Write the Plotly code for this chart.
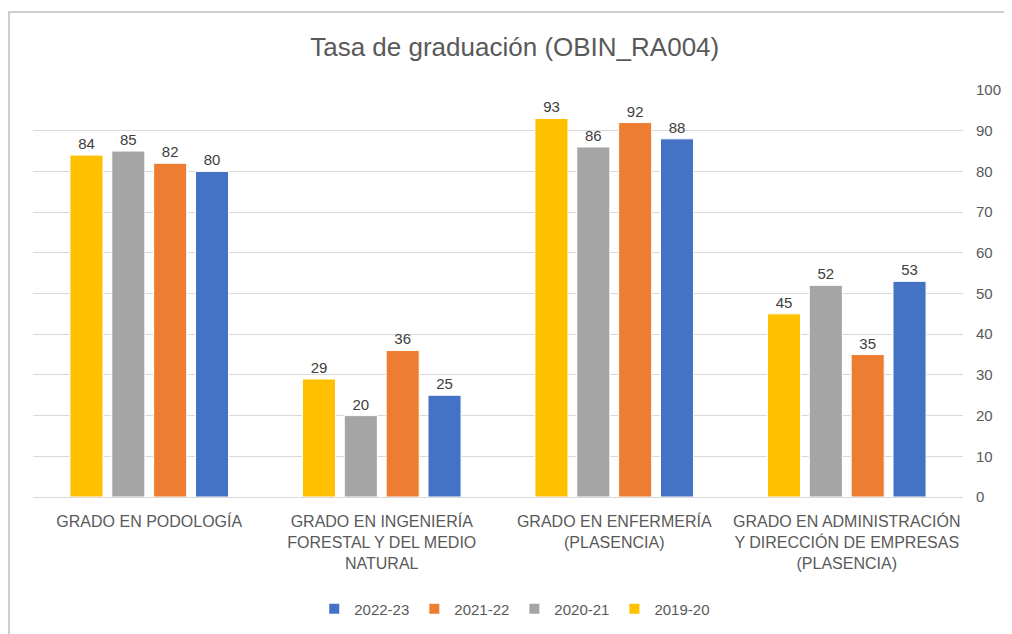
import plotly.graph_objects as go

# ------------------------------------------------------------
# Data
# ------------------------------------------------------------
grados = [
    "GRADO EN PODOLOGÍA",
    "GRADO EN INGENIERÍA<br>FORESTAL Y DEL MEDIO<br>NATURAL",
    "GRADO EN ENFERMERÍA<br>(PLASENCIA)",
    "GRADO EN ADMINISTRACIÓN<br>Y DIRECCIÓN DE EMPRESAS<br>(PLASENCIA)",
]

cursos = ["2019-20", "2020-21", "2021-22", "2022-23"]

tasa_2019_20 = [84, 29, 93, 45]
tasa_2020_21 = [85, 20, 86, 52]
tasa_2021_22 = [82, 36, 92, 35]
tasa_2022_23 = [80, 25, 88, 53]

colores = ["#FFC000", "#A5A5A5", "#ED7D31", "#4472C4"]

series = [tasa_2019_20, tasa_2020_21, tasa_2021_22, tasa_2022_23]

# ------------------------------------------------------------
# Chart
# ------------------------------------------------------------
font_family = "Liberation Sans, Arial"

fig = go.Figure()

for curso, valores, color in zip(cursos, series, colores):
    fig.add_trace(
        go.Bar(
            x=grados,
            y=valores,
            name=curso,
            marker=dict(color=color, line=dict(color="white", width=1)),
            text=valores,
            textposition="outside",
            textfont=dict(size=15, color="#404040", family=font_family),
            cliponaxis=False,
        )
    )

fig.update_layout(
    title=dict(
        text="Tasa de graduación (OBIN_RA004)",
        x=0.518,
        xref="paper",
        xanchor="center",
        y=0.9385,
        yanchor="middle",
        font=dict(size=26, color="#595959", family=font_family),
    ),
    barmode="group",
    bargap=0.28,
    bargroupgap=0.21,
    width=1012,
    height=634,
    margin=dict(l=25, r=57, t=82, b=145, autoexpand=False),
    plot_bgcolor="white",
    paper_bgcolor="white",
    font=dict(family=font_family, color="#595959"),
    legend=dict(
        orientation="h",
        traceorder="reversed",
        x=0.518,
        xanchor="center",
        y=-0.275,
        yanchor="middle",
        font=dict(size=15, color="#595959"),
        itemsizing="constant",
    ),
    showlegend=True,
)

fig.update_xaxes(
    automargin=False,
    showgrid=False,
    showline=True,
    linecolor="#D9D9D9",
    linewidth=1,
    tickfont=dict(size=16, color="#595959"),
    ticks="",
    tickangle=0,
    ticklabelstandoff=10,
)

fig.update_yaxes(
    automargin=False,
    side="right",
    range=[0, 100],
    dtick=10,
    showgrid=True,
    gridcolor="#D9D9D9",
    zeroline=False,
    showline=False,
    tickfont=dict(size=15, color="#595959"),
    ticks="",
    ticklabelstandoff=12,
)

# chart frame
fig.add_shape(
    type="rect",
    xref="paper",
    yref="paper",
    x0=(1 - 25) / 930,
    x1=(1030 - 25) / 930,
    y0=-(660 - 489) / 407,
    y1=1 + (82 - 4) / 407,
    line=dict(color="#BFBFBF", width=1.5),
    layer="below",
)

fig.write_html("out.html")
